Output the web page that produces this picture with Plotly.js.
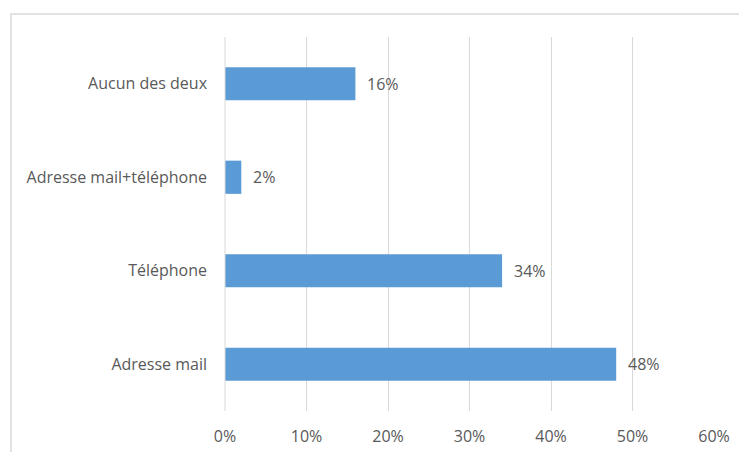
<!DOCTYPE html>
<html><head><meta charset="utf-8">
<script src="https://cdn.plot.ly/plotly-3.0.1.min.js"></script>
<style>html,body{margin:0;padding:0;background:#fff;}#c{width:739px;height:452px;}</style>
</head><body><div id="c"></div>
<script>
const categories = ["Adresse mail", "Téléphone", "Adresse mail+téléphone", "Aucun des deux"];
const values = [0.48, 0.34, 0.02, 0.16];
const labels = ["48%", "34%", "2%", "16%"];
const xTicks = [0, 0.1, 0.2, 0.3, 0.4, 0.5, 0.6];
const xTickLabels = ["0%", "10%", "20%", "30%", "40%", "50%", "60%"];

const L = 225, R = 25, T = 37, B = 41, W = 739, H = 452;
const pw = W - L - R, ph = H - T - B;
const px = v => (v - L) / pw;
const py = v => (H - B - v) / ph;

const font = {family: "Open Sans, sans-serif", size: 16, color: "#595959"};

Plotly.newPlot("c", [{
  type: "bar", orientation: "h",
  x: values, y: categories,
  marker: {color: "#5B9BD5"},
  width: 0.355,
  hoverinfo: "skip"
}], {
  width: W, height: H,
  margin: {l: L, r: R, t: T, b: B, pad: 0},
  paper_bgcolor: "#fff", plot_bgcolor: "#fff",
  showlegend: false,
  font: font,
  xaxis: {range: [0, 0.6], tickvals: xTicks, ticktext: xTickLabels,
          showgrid: true, gridcolor: "#d9d9d9", gridwidth: 1,
          zeroline: false, showline: false, ticks: "", ticklabelstandoff: 14,
          tickfont: font, fixedrange: true},
  yaxis: {categoryorder: "array", categoryarray: categories,
          showgrid: false, zeroline: false, showline: false, ticks: "",
          ticklabelstandoff: 17, tickfont: font, fixedrange: true},
  annotations: categories.map((c, i) => ({
    x: values[i], y: c, xref: "x", yref: "y", text: labels[i],
    showarrow: false, xanchor: "left", xshift: 10, font: font
  })),
  shapes: [
    {type: "line", xref: "paper", yref: "paper", x0: 0, x1: 0, y0: 0, y1: 1,
     line: {color: "#d9d9d9", width: 1}},
    {type: "rect", xref: "paper", yref: "paper",
     x0: px(11), x1: px(760), y0: py(470), y1: py(14),
     line: {color: "#d9d9d9", width: 1.5}, fillcolor: "rgba(0,0,0,0)", layer: "below"}
  ]
}, {displayModeBar: false, staticPlot: true});
</script></body></html>
